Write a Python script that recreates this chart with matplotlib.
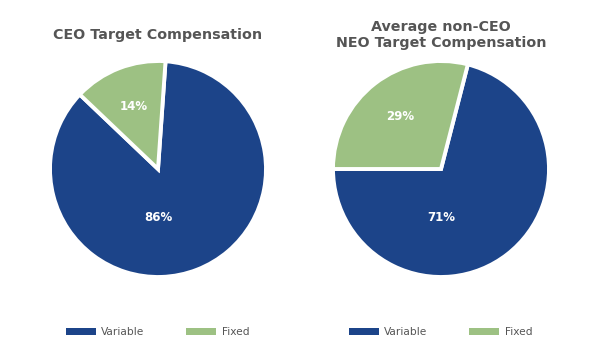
import matplotlib
matplotlib.use("Agg")
import matplotlib.pyplot as plt

categories = ["Variable", "Fixed"]
ceo_values = [86, 14]
neo_values = [71, 29]
titles = ["CEO Target Compensation", "Average non-CEO\nNEO Target Compensation"]
start_angles = [136.4, 180]

BLUE = "#1C4489"
GREEN = "#9DC183"
GRAY = "#555555"

plt.rcParams['font.family'] = ['DejaVu Sans']

fig = plt.figure(figsize=(6.04, 3.64), dpi=100)
W, H = 604, 364
R = 108
centers = [(158, 169), (441, 169)]
title_y = [35, 35]

for (cx, cy), vals, title, sa, ty in zip(centers, [ceo_values, neo_values], titles, start_angles, title_y):
    ax = fig.add_axes([(cx - R) / W, (H - cy - R) / H, 2 * R / W, 2 * R / H])
    wedges, texts, autotexts = ax.pie(
        vals, colors=[BLUE, GREEN], startangle=sa, counterclock=True,
        autopct=lambda p: f"{p:.0f}%", pctdistance=0.62,
        wedgeprops=dict(edgecolor="white", linewidth=2.8),
        textprops=dict(color="white", fontsize=8.5, fontweight="bold"))
    # variable label sits directly under the centre
    autotexts[0].set_position((0, -0.45))
    ax.set_xlim(-1.0, 1.0)
    ax.set_ylim(-1.0, 1.0)
    ax.set_aspect("equal")
    ax.axis("off")
    fig.text(cx / W, 1 - ty / H, title, ha="center", va="center",
             fontsize=10.3, fontweight="bold", color=GRAY, linespacing=1.2)
    leg = fig.legend(wedges, categories, loc="center left",
                     bbox_to_anchor=((cx - 92) / W, 1 - 332 / H), ncol=2, frameon=False,
                     fontsize=7.7, handlelength=2.8, handleheight=0.65,
                     handletextpad=0.5, columnspacing=3.9, borderaxespad=0, borderpad=0)
    for t in leg.get_texts():
        t.set_color(GRAY)
    for h in leg.legend_handles:
        h.set_edgecolor("none")
        h.set_linewidth(0)

fig.savefig("out.png", dpi=100, facecolor="white")
